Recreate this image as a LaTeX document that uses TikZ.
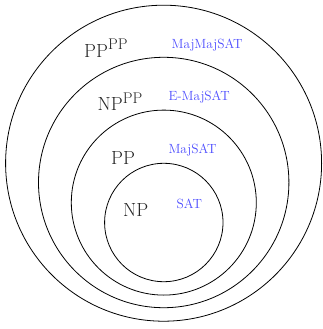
\documentclass[tikz,border=0pt]{standalone}
\usepackage{fontspec}
\setmainfont{Latin Modern Roman}
\begin{document}
\begin{tikzpicture}[x=1pt,y=-1pt,
  ring/.style={draw=black,line width=0.8pt,circle,inner sep=0pt},
  cls/.style={anchor=base west,inner sep=0pt,text=black!85,font=\fontsize{19}{21}\selectfont},
  sup/.style={},
  prob/.style={anchor=base west,inner sep=0pt,text=blue!70,font=\fontsize{13.3}{15}\selectfont}]
\useasboundingbox (0,0) rectangle (323,329);
\node[ring,minimum size=316pt] (c1) at (163.6,163.2) {};
\node[ring,minimum size=250.4pt] (c2) at (163.7,182.5) {};
\node[ring,minimum size=185pt] (c3) at (163.8,202.6) {};
\node[ring,minimum size=118.4pt] (c4) at (163.8,222.5) {};
\node[cls] (l1) at (84,57.5) {PP\raisebox{7.5pt}{\fontsize{15.5}{17}\selectfont PP}};
\node[cls] (l2) at (97.5,110) {NP\raisebox{7pt}{\fontsize{15.5}{17}\selectfont PP}};
\node[cls] (l3) at (111,164.5) {PP};
\node[cls] (l4) at (123,216) {NP};
\node[prob] (p1) at (171.5,48.3) {MajMajSAT};
\node[prob] (p2) at (168.3,100.7) {E-MajSAT};
\node[prob] (p3) at (168.3,153.3) {MajSAT};
\node[prob] (p4) at (176.5,208.3) {SAT};
\end{tikzpicture}
\end{document}
